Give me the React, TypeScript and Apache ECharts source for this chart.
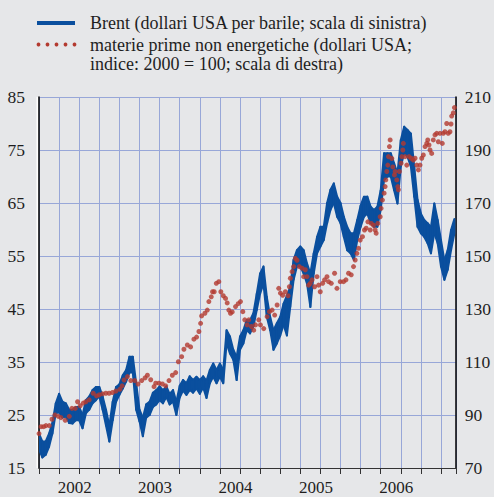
import React, { useEffect, useRef } from "react";
import * as echarts from "echarts";

// Brent, USD per barrel (left scale): daily range read as low/high per half month from Jan 2002
const brentStartMonth = 0; // months since 1 Jan 2002
const brentStep = 0.5;
const brentLow = [
  18.5, 17, 17.5, 19, 21.5, 25.3, 25.5, 24.5, 24.7, 23.5,
  23.4, 24, 24, 22.5, 25.3, 26, 27.2, 27.8, 28.5, 26,
  23, 20, 24, 27.5, 28.8, 30, 31.3, 33, 33, 26,
  23.8, 21, 24.5, 25, 26.5, 27, 27.8, 27.2, 28.4, 27,
  27.5, 25, 28.3, 29.6, 28.8, 29.7, 29.2, 30, 29, 30.2,
  28.2, 31, 32.2, 31, 32.2, 31, 38.5, 36.6, 35.4, 31.6,
  37.3, 38.5, 41, 40.4, 41.7, 44.8, 47.9, 49.8, 43.5, 41,
  37.3, 38.5, 40, 42, 40, 45.4, 50.5, 53, 53, 51.7,
  49.8, 45.4, 51.7, 55.5, 56.8, 58, 61.2, 63.7, 65, 62.4,
  61.2, 58.6, 56.1, 55.5, 54.3, 58, 60.5, 62.4, 63, 61.2,
  60.5, 60.5, 63.7, 69.3, 70, 70, 67.4, 64.9, 71.9, 74.4,
  73.7, 71.9, 66.2, 60.5, 59.3, 58.6, 57.4, 55.5, 59.3, 57.4,
  53, 50.5, 52.4, 56.1, 59.3,
];
const brentHigh = [
  21.5, 20, 20, 21.5, 23.5, 27.2, 29, 27.5, 27.2, 26,
  26, 26.5, 26.5, 25, 27.8, 28.5, 29.7, 30.3, 30.3, 28.5,
  26, 23, 27.5, 30.3, 30.8, 32.5, 33.5, 36, 36, 31,
  26, 24.5, 27, 27.5, 29.2, 29.7, 30.4, 29.7, 30.4, 29,
  29.7, 27.5, 30.5, 31.6, 31, 32.3, 31.6, 32.2, 31.6, 32.3,
  31.5, 33.5, 34.7, 33.5, 34.7, 33.5, 41, 39.8, 37.3, 36,
  39.8, 41, 42.9, 42.9, 44.2, 47.9, 51.7, 53, 47.3, 43.5,
  41, 42.3, 43.5, 46, 47.5, 49.2, 54.3, 56.1, 56.8, 56.1,
  53.6, 51.7, 55.5, 58.6, 60.5, 60.5, 65, 67.5, 68.7, 66.2,
  65, 62.4, 60.5, 59.3, 59.3, 61.8, 64.5, 66.2, 66.2, 64.3,
  63.7, 64.3, 67.4, 74.4, 74.4, 74.4, 72.5, 70.6, 76.9, 79.4,
  78.8, 78.1, 71.9, 65.6, 63, 61.8, 61.2, 60.5, 64.9, 61.8,
  58, 54.2, 56.1, 59.9, 62,
];

// Non-energy commodities index (2000 = 100, right scale)
const commodityMonths = [
  0, 0.3, 0.7, 1.04, 1.54, 1.94, 2.38, 2.88, 3.28, 3.92,
  4.52, 4.91, 5.41, 5.76, 6.15, 6.6, 7.0, 7.49, 8.09, 8.59,
  8.98, 9.48, 9.97, 10.47, 10.97, 11.46, 12.06, 12.4, 12.7, 13.2,
  13.7, 14.29, 14.78, 15.33, 15.83, 16.18, 16.67, 17.17, 17.42, 17.91,
  18.42, 18.91, 19.4, 19.9, 20.4, 20.8, 21.29, 21.63, 22.14, 22.63,
  23.12, 23.52, 23.87, 24.12, 24.27, 24.76, 25.12, 25.35, 25.71, 25.9,
  26.15, 26.46, 26.84, 27.14, 27.5, 27.84, 28.09, 28.33, 28.58, 28.84,
  29.33, 29.73, 30.07, 30.42, 30.71, 31.07, 31.31, 31.71, 32.05, 32.31,
  32.8, 33.05, 33.54, 34.05, 34.39, 34.79, 35.18, 35.54, 35.78, 36.03,
  36.37, 36.77, 37.17, 37.37, 37.52, 37.77, 38.01, 38.26, 38.51, 38.86,
  39.26, 39.5, 39.75, 40.0, 40.24, 40.49, 40.75, 41.13, 41.49, 41.73,
  41.98, 42.33, 42.62, 42.98, 43.22, 43.62, 44.11, 44.47, 44.96, 45.45,
  45.81, 46.2, 46.6, 46.94, 47.19, 47.45, 47.69, 47.94, 48.28, 48.58,
  48.83, 49.08, 49.43, 49.58, 49.92, 50.17, 50.32, 50.57, 50.92, 51.06,
  51.26, 51.51, 51.66, 51.76, 51.91, 52.06, 52.15, 52.3, 52.41, 52.66,
  52.81, 53.05, 53.15, 53.4, 53.55, 53.64, 53.79, 54.04, 54.15, 54.3,
  54.38, 54.64, 54.89, 55.23, 55.53, 55.87, 56.13, 56.38, 56.62, 56.87,
  57.12, 57.36, 57.62, 57.87, 58.02, 58.21, 58.36, 58.61, 58.85, 59.1,
  59.36, 59.6, 59.85, 60.19, 60.34, 60.59, 60.85, 61.08, 61.34, 61.49,
  61.59, 61.83, 62.0,
];
const commodityValues = [
  83, 85.6, 85.6, 86, 86, 88.4, 90, 89.5, 89, 88,
  89.5, 92.5, 92.5, 95, 93.5, 94.5, 95, 95.7, 98.2, 97.2,
  97.6, 98, 98.2, 98.2, 98.5, 99, 99.7, 101, 103.2, 104.5,
  103, 103, 101.7, 103, 104, 105, 103.3, 100.7, 102, 102,
  101.7, 101, 103, 105, 106, 110.1, 112, 114.8, 116.4, 115.7,
  118.6, 119.4, 121.5, 124.6, 127.4, 128.4, 129.6, 132.8, 134.6, 136.5,
  136.5, 139.7, 140.3, 136.5, 135, 134, 132.3, 129.6, 128.4, 128.9,
  130.9, 132, 132.8, 129, 125.9, 124, 125.9, 123.4, 122, 124,
  125.9, 124, 122.6, 127.1, 129, 129.6, 127.7, 131.5, 137.8, 136,
  135.2, 136.5, 135, 138.4, 141.6, 144.1, 146, 149.1, 148.4, 146,
  145.4, 142.2, 144.8, 142.2, 139, 139.7, 141, 138.4, 142.2, 139,
  136.5, 139.7, 141, 142.2, 140.3, 139.7, 143.5, 137.8, 140.3, 140.3,
  141, 143.5, 142.9, 146, 148.5, 151, 152.9, 156, 157.3, 159.8,
  160.5, 162.9, 159.8, 162.3, 161.6, 159.8, 158.6, 162.3, 164.8, 168,
  171.1, 173.7, 176.2, 178.7, 181.9, 184.3, 187.5, 191.3, 193.8, 186.8,
  183.6, 180.6, 181.9, 178.7, 176.2, 175, 181.9, 185, 187.5, 190,
  192.5, 187.5, 184.3, 187.5, 186.9, 186.2, 186.9, 184.3, 182.5, 184.3,
  186.9, 188.1, 191.3, 192.5, 193.8, 191.9, 190, 188.7, 193.8, 195.7,
  196.3, 193.1, 196.3, 192.5, 196.3, 196.9, 200, 196.3, 196.9, 199.8,
  202.8, 204, 206,
];

const yearLabels = ["2002", "2003", "2004", "2005", "2006"];
const legendBrent = "Brent (dollari USA per barile; scala di sinistra)";
const legendCommodityLine1 = "materie prime non energetiche (dollari USA;";
const legendCommodityLine2 = "indice: 2000 = 100; scala di destra)";

const BLUE = "#0a4f9e";
const RED = "#b3392f";
const GRID = "#98a7d8";
const TEXT = "#1e1e1e";
const FONT = "'Liberation Serif', 'Times New Roman', serif";

export default function App() {
  const ref = useRef<HTMLDivElement>(null);
  useEffect(() => {
    if (!ref.current) return;
    const chart = echarts.init(ref.current, undefined, { renderer: "svg" });
    const brentMonths = brentLow.map((_, i) => brentStartMonth + i * brentStep);
    const bandData = brentLow.map((v, i) => [brentMonths[i], v, brentHigh[i]]);
    const commodityData = commodityValues.map((v, i) => [commodityMonths[i], v]);
    const n = bandData.length;
    chart.setOption({
      animation: false,
      backgroundColor: "#e6e7e9",
      grid: { left: 39, right: 37, top: 97, bottom: 29 },
      xAxis: {
        type: "value",
        min: 0,
        max: 62.2,
        interval: 3,
        axisLine: { show: true, lineStyle: { color: "#333", width: 1 } },
        axisTick: { show: true, length: 6, lineStyle: { color: "#333", width: 1 } },
        axisLabel: {
          color: TEXT,
          fontSize: 17,
          fontFamily: FONT,
          margin: 11,
          padding: [0, 9, 0, 0],
          formatter: (v: number) => {
            const r = Math.round(v);
            if (Math.abs(v - r) > 1e-6) return "";
            if (r % 12 === 6) {
              const idx = (r - 6) / 12;
              return yearLabels[idx] ?? "";
            }
            return "";
          },
        },
        splitLine: { show: true, lineStyle: { color: GRID, width: 1 } },
      },
      yAxis: [
        {
          type: "value",
          min: 15,
          max: 85,
          interval: 10,
          position: "left",
          axisLine: { show: true, lineStyle: { color: "#000", width: 1.5 } },
          axisTick: { show: false },
          axisLabel: { color: TEXT, fontSize: 17.5, fontFamily: FONT, margin: 14 },
          splitLine: { show: true, lineStyle: { color: GRID, width: 1 } },
        },
        {
          type: "value",
          min: 70,
          max: 210,
          interval: 20,
          position: "right",
          axisLine: { show: true, lineStyle: { color: "#000", width: 1.5 } },
          axisTick: { show: false },
          axisLabel: { color: TEXT, fontSize: 17.5, fontFamily: FONT, margin: 9 },
          splitLine: { show: false },
        },
      ],
      series: [
        {
          name: "Brent",
          type: "custom",
          yAxisIndex: 0,
          data: bandData,
          encode: { x: 0, y: [1, 2] },
          clip: true,
          z: 2,
          renderItem: (params: any, api: any) => {
            const i = params.dataIndex;
            if (i >= n - 1) return null;
            const a = bandData[i];
            const b = bandData[i + 1];
            const p1 = api.coord([a[0], a[1]]);
            const p2 = api.coord([b[0], b[1]]);
            const p3 = api.coord([b[0], b[2]]);
            const p4 = api.coord([a[0], a[2]]);
            return {
              type: "polygon",
              shape: { points: [p1, p2, p3, p4] },
              style: { fill: BLUE, stroke: BLUE, lineWidth: 2, lineJoin: "round" },
            };
          },
        },
        {
          name: "materie prime",
          type: "scatter",
          yAxisIndex: 1,
          data: commodityData,
          symbol: "circle",
          symbolSize: 5,
          itemStyle: { color: RED },
          z: 3,
        },
      ],
      graphic: [
        { type: "rect", shape: { x: 36.5, y: 97, width: 1.5, height: 371 }, style: { fill: "#ffffff" }, silent: true },
        { type: "rect", shape: { x: 37, y: 21, width: 38, height: 4 }, style: { fill: BLUE } },
        ...[38.5, 47.5, 56.5, 65.5, 74.5].map((cx) => ({
          type: "circle",
          shape: { cx, cy: 44.5, r: 1.9 },
          style: { fill: RED },
        })),
        {
          type: "text",
          x: 90,
          y: 23,
          style: { text: legendBrent, fill: TEXT, font: `18px ${FONT}`, verticalAlign: "middle" },
        },
        {
          type: "text",
          x: 90,
          y: 45,
          style: { text: legendCommodityLine1, fill: TEXT, font: `18px ${FONT}`, verticalAlign: "middle" },
        },
        {
          type: "text",
          x: 90,
          y: 64,
          style: { text: legendCommodityLine2, fill: TEXT, font: `18px ${FONT}`, verticalAlign: "middle" },
        },
      ],
    });
    return () => chart.dispose();
  }, []);
  return (
    <div style={{ position: "absolute", left: 0, top: 0 }}>
      <div ref={ref} style={{ width: 494, height: 497 }} />
    </div>
  );
}
